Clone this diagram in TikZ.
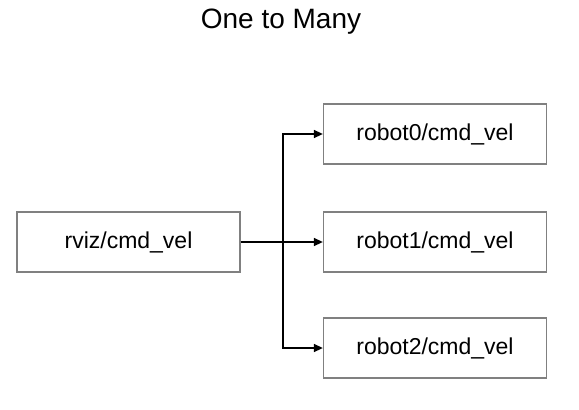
\documentclass[tikz,border=0pt]{standalone}
\usepackage{fontspec}
\setmainfont{Liberation Sans}
\usetikzlibrary{arrows.meta}

\begin{document}
\begin{tikzpicture}[x=1pt,y=-1pt]
        \tikzset{
        topic/.style={rectangle,minimum width=223pt,minimum height=60pt,draw=black!50,line width=1.3pt,font=\fontsize{23}{26}\selectfont},
        wire/.style={-{Triangle[length=9pt,width=8pt]},line width=1.5pt},
        }
        \useasboundingbox (0,0) rectangle (579,410);
        \node (title) at (281,22) {\fontsize{28}{32}\selectfont One to Many};
        \node[topic] (rviz) at (128.5,242) {rviz/cmd\_vel};
        \node[topic] (r0) at (435,134) {robot0/cmd\_vel};
        \node[topic] (r1) at (435,242) {robot1/cmd\_vel};
        \node[topic] (r2) at (435,348) {robot2/cmd\_vel};
        \coordinate (split) at (283,242);

        \draw[wire] (rviz) -- (r1);
        \draw[wire] (split) |- (r0);
        \draw[wire] (split) |- (r2);
\end{tikzpicture}
\end{document}
